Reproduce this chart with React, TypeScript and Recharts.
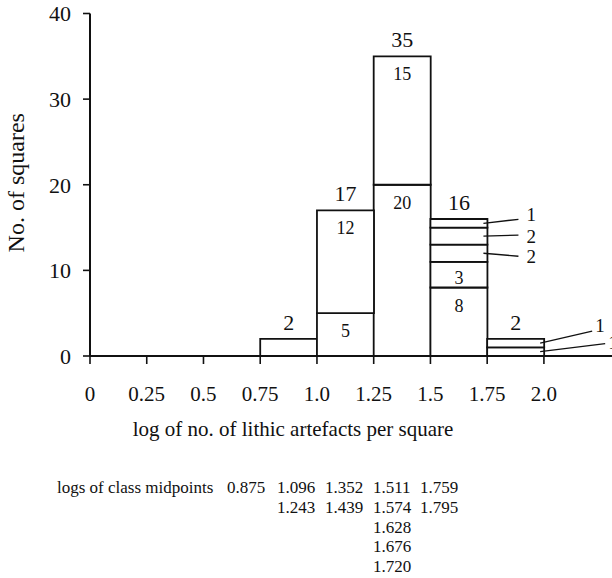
import { BarChart, Bar, XAxis, YAxis, LabelList } from 'recharts';

const binMids = [0.875, 1.125, 1.375, 1.625, 1.875];
// counts in each class, bottom segment first
const binSegments = [[2], [5, 12], [20, 15], [8, 3, 2, 2, 1], [1, 1]];
const binTotals = [2, 17, 35, 16, 2];
const segmentLabelModes = [
  ['none'],
  ['inside', 'inside'],
  ['inside', 'inside'],
  ['inside', 'inside', 'callout', 'callout', 'callout'],
  ['callout', 'callout'],
];
const xTicks = [0, 0.25, 0.5, 0.75, 1, 1.25, 1.5, 1.75, 2];
const xTickLabels = ['0', '0.25', '0.5', '0.75', '1.0', '1.25', '1.5', '1.75', '2.0'];
const yTicks = [0, 10, 20, 30, 40];

const midpointCaption = 'logs of class midpoints';
const midpointColumns = [
  ['0.875'],
  ['1.096', '1.243'],
  ['1.352', '1.439'],
  ['1.511', '1.574', '1.628', '1.676', '1.720'],
  ['1.759', '1.795'],
];

// leader lines for the thin segments (layout only)
const calloutGeometry: Record<string, { dx: number; dy: number; textDy: number; gap: number }> = {
  '3-2': { dx: 31, dy: 3, textDy: 0, gap: 8 },
  '3-3': { dx: 31, dy: -1, textDy: 1, gap: 8 },
  '3-4': { dx: 31, dy: -4, textDy: -5, gap: 8 },
  '4-1': { dx: 48, dy: -12, textDy: -6, gap: 3 },
  '4-0': { dx: 61, dy: -8, textDy: -1, gap: 3 },
};

const INK = '#111';
const FONT = '"Liberation Serif", "Times New Roman", serif';
const segKeys = ['s1', 's2', 's3', 's4', 's5'];

const data = binMids.map((mid, i) => {
  const row: Record<string, number> = { mid, bin: i };
  binSegments[i].forEach((v, k) => {
    row[segKeys[k]] = v;
  });
  return row;
});

const renderSegmentLabel = (k: number) => (props: any) => {
  const i = Number(props.value);
  const v = binSegments[i]?.[k];
  if (v == null) return null;
  const vb = props.viewBox ?? props;
  const { x, y, width, height } = vb;
  if (![x, y, width, height].every((n) => Number.isFinite(n))) return null;
  const cx = x + width / 2;
  const mode = segmentLabelModes[i][k];
  const isTop = k === binSegments[i].length - 1;
  const parts: any[] = [];
  if (isTop) {
    parts.push(
      <text key="tot" x={cx} y={y - 9} textAnchor="middle" fontSize={22} fontFamily={FONT} fill={INK}>
        {binTotals[i]}
      </text>
    );
  }
  if (mode === 'inside') {
    parts.push(
      <text
        key="in"
        x={cx}
        y={y + Math.min(24, height - 4)}
        textAnchor="middle"
        fontSize={18}
        fontFamily={FONT}
        fill={INK}
      >
        {v}
      </text>
    );
  } else if (mode === 'callout') {
    const g = calloutGeometry[`${i}-${k}`];
    const mid = y + height / 2;
    const x0 = x + width - 4;
    const x1 = x + width + g.dx;
    parts.push(
      <g key="co">
        <line x1={x0} y1={mid} x2={x1} y2={mid + g.dy} stroke={INK} strokeWidth={1.3} />
        <text
          x={x1 + g.gap}
          y={mid + g.dy + g.textDy}
          dominantBaseline="central"
          fontSize={19}
          fontFamily={FONT}
          fill={INK}
        >
          {v}
        </text>
      </g>
    );
  }
  return <g>{parts}</g>;
};

const XTitle = (p: any) => {
  const vb = p?.viewBox ?? { x: 90, y: 356 };
  return (
    <text x={vb.x + 203} y={vb.y + 80} textAnchor="middle" fontSize={21} fontFamily={FONT} fill={INK}>
      log of no. of lithic artefacts per square
    </text>
  );
};

const YTitle = (p: any) => {
  const vb = p?.viewBox ?? { x: 30, y: 13.5, height: 342.5 };
  const cx = vb.x - 14;
  const cy = vb.y + vb.height / 2 - 2;
  return (
    <text
      x={cx}
      y={cy}
      transform={`rotate(-90, ${cx}, ${cy})`}
      textAnchor="middle"
      dominantBaseline="central"
      fontSize={24}
      fontFamily={FONT}
      fill={INK}
    >
      No. of squares
    </text>
  );
};

const colX = [227, 277, 325, 373, 420];

export default function App() {
  return (
    <div
      style={{
        position: 'absolute',
        left: 0,
        top: 0,
        width: 612,
        height: 578,
        background: '#fff',
        fontFamily: FONT,
        overflow: 'hidden',
      }}
    >
      <BarChart
        width={612}
        height={460}
        data={data}
        margin={{ top: 13.5, right: 0, bottom: 34, left: 30 }}
        barCategoryGap={0}
        barGap={0}
      >
        <XAxis
          type="number"
          dataKey="mid"
          domain={[0, 2.3]}
          ticks={xTicks}
          interval={0}
          tickFormatter={(v) => xTickLabels[xTicks.indexOf(v)] ?? String(v)}
          tickSize={8}
          tickMargin={22}
          height={70}
          axisLine={{ stroke: INK, strokeWidth: 2 }}
          tickLine={{ stroke: INK, strokeWidth: 1.6 }}
          tick={{ fontSize: 21, fill: INK, fontFamily: FONT }}
          label={XTitle}
        />
        <YAxis
          type="number"
          domain={[0, 40]}
          ticks={yTicks}
          interval={0}
          tickSize={7}
          tickMargin={12}
          width={60}
          axisLine={{ stroke: INK, strokeWidth: 2 }}
          tickLine={{ stroke: INK, strokeWidth: 1.6 }}
          tick={{ fontSize: 22, fill: INK, fontFamily: FONT }}
          label={YTitle}
        />
        {segKeys.map((key, k) => (
          <Bar
            key={key}
            dataKey={key}
            stackId="a"
            fill="#fff"
            stroke={INK}
            strokeWidth={1.8}
            isAnimationActive={false}
          >
            <LabelList dataKey="bin" content={renderSegmentLabel(k)} />
          </Bar>
        ))}
      </BarChart>
      <svg width={612} height={118} style={{ position: 'absolute', left: 0, top: 460 }}>
        <text x={57} y={33} fontSize={17} fontFamily={FONT} fill={INK}>
          {midpointCaption}
        </text>
        {midpointColumns.map((col, c) =>
          col.map((t, r) => (
            <text key={`${c}-${r}`} x={colX[c]} y={33 + r * 19.8} fontSize={17} fontFamily={FONT} fill={INK}>
              {t}
            </text>
          ))
        )}
      </svg>
    </div>
  );
}
